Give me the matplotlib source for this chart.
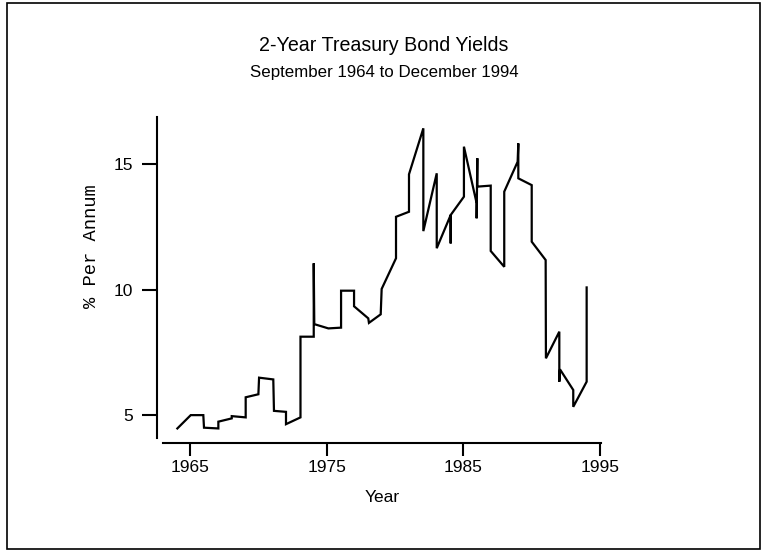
import matplotlib
matplotlib.use("Agg")
import matplotlib.pyplot as plt
from matplotlib.patches import Rectangle

plt.rcParams["font.family"] = ["Liberation Sans", "DejaVu Sans"]

# Data (year, yield in % per annum)
years = [1964.07, 1965.05, 1965.97, 1966.02, 1967.07, 1967.07, 1968.05, 1968.05,
         1969.07, 1969.07, 1970.00, 1970.05, 1971.09, 1971.14, 1972.02, 1972.02,
         1973.08, 1973.08, 1974.05, 1974.05, 1974.09, 1975.12, 1976.05, 1976.05,
         1977.00, 1977.00, 1978.04, 1978.09, 1978.95, 1979.02, 1980.07, 1980.07,
         1981.02, 1981.02, 1982.07, 1982.07, 1983.05, 1983.05, 1984.07, 1984.07,
         1984.07, 1985.04, 1985.04, 1985.97, 1985.97, 1986.02, 1986.02, 1987.00,
         1987.00, 1987.99, 1987.99, 1988.97, 1989.02, 1989.02, 1990.00, 1990.00,
         1991.02, 1991.04, 1992.02, 1992.02, 1992.07, 1993.04, 1993.04, 1994.02,
         1994.02]
yields = [4.48, 5.01, 5.01, 4.51, 4.48, 4.75, 4.88, 4.97,
          4.92, 5.72, 5.84, 6.50, 6.43, 5.18, 5.14, 4.65,
          4.92, 8.13, 8.13, 11.05, 8.63, 8.46, 8.49, 9.96,
          9.96, 9.34, 8.86, 8.68, 9.02, 10.03, 11.25, 12.90,
          13.10, 14.59, 16.42, 12.33, 14.63, 11.65, 12.97, 11.84,
          12.97, 13.70, 15.69, 13.44, 12.84, 15.23, 14.10, 14.14,
          11.54, 10.91, 13.90, 15.09, 15.82, 14.43, 14.16, 11.91,
          11.18, 7.27, 8.33, 6.34, 6.83, 6.01, 5.34, 6.34,
          10.09]

x_ticks = [1965, 1975, 1985, 1995]
y_ticks = [5, 10, 15]

title = "2-Year Treasury Bond Yields"
subtitle = "September 1964 to December 1994"
x_label = "Year"
y_label = "% Per Annum"

W, H = 762, 553
fig = plt.figure(figsize=(W / 100, H / 100), dpi=100)
fig.patch.set_facecolor("white")

# outer frame
fig.patches.append(Rectangle((7 / W, 1 - 549 / H), (760 - 7) / W, (549 - 3) / H,
                             transform=fig.transFigure, fill=False,
                             edgecolor="black", linewidth=1.2))

ax = fig.add_axes([163 / W, 1 - 438 / H, (601 - 163) / W, (438 - 117) / H])
ax.plot(years, yields, color="black", linewidth=1.6, solid_joinstyle="miter")

ax.set_xlim(1963.02, 1995.07)
ax.set_ylim(4.10, 16.87)
ax.set_xticks(x_ticks)
ax.set_yticks(y_ticks)
ax.set_xticklabels([str(t) for t in x_ticks])
ax.set_yticklabels([str(t) for t in y_ticks])

for s in ["top", "right"]:
    ax.spines[s].set_visible(False)
ax.spines["left"].set_position(("outward", 4.3))
ax.spines["bottom"].set_position(("outward", 3.6))
ax.spines["left"].set_linewidth(1.5)
ax.spines["bottom"].set_linewidth(1.5)
ax.tick_params(axis="x", length=9, width=1.5, pad=3.5, direction="out", labelsize=12.5)
ax.tick_params(axis="y", length=10.5, width=1.5, pad=7, direction="out", labelsize=12.5)

fig.text(384 / W, 1 - 51 / H, title, ha="center", va="baseline", fontsize=14.1)
fig.text(384 / W, 1 - 77 / H, subtitle, ha="center", va="baseline", fontsize=12.2)
fig.text(382.5 / W, 1 - 502 / H, x_label, ha="center", va="baseline", fontsize=12.5)
fig.text(91.7 / W, 1 - 245.8 / H, y_label, ha="center", va="center", rotation=90,
         fontfamily="Liberation Mono", fontsize=13.5)

fig.savefig("out.png", dpi=100)
